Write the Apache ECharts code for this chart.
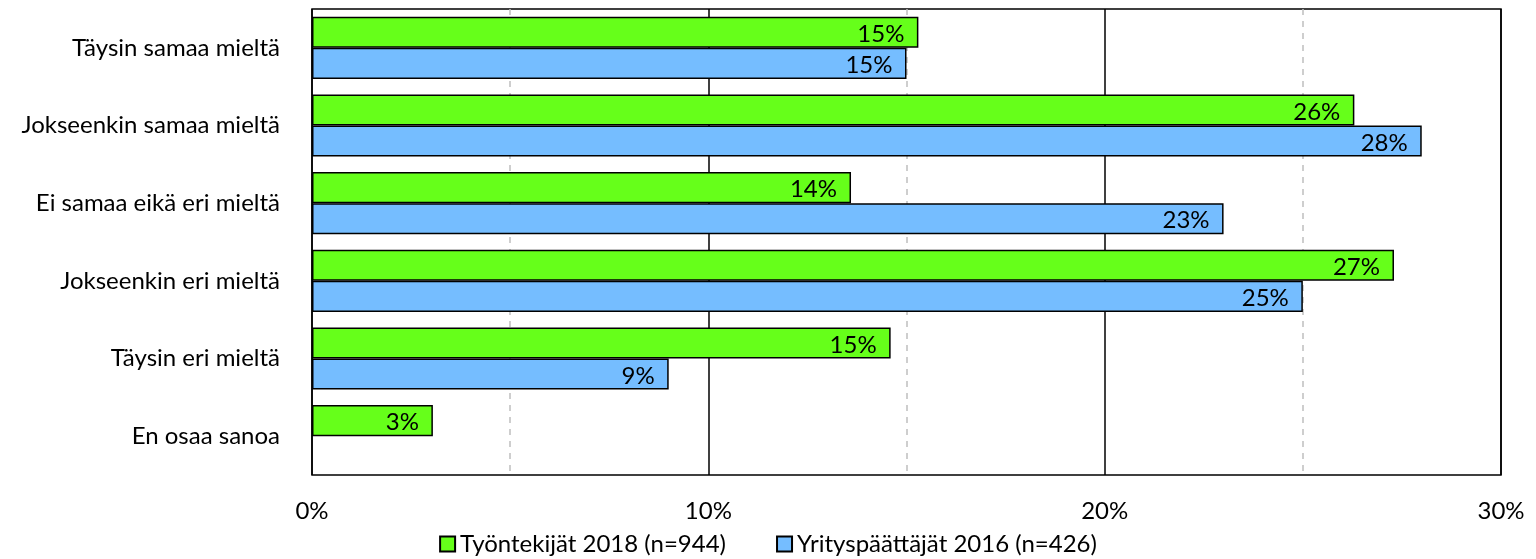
<!DOCTYPE html>
<html>
<head>
<meta charset="utf-8">
<script src="https://cdn.jsdelivr.net/npm/echarts@6/dist/echarts.min.js"></script>
<style>
  html, body { margin: 0; padding: 0; background: #fff; }
  #chart { width: 1536px; height: 559px; }
</style>
</head>
<body>
<div id="chart"></div>
<script>
const categories = [
  'Täysin samaa mieltä',
  'Jokseenkin samaa mieltä',
  'Ei samaa eikä eri mieltä',
  'Jokseenkin eri mieltä',
  'Täysin eri mieltä',
  'En osaa sanoa'
];
const tyontekijat2018 = [15.3, 26.3, 13.6, 27.3, 14.6, 3.05];
const yrityspaattajat2016 = [15.0, 28.0, 23.0, 25.0, 9.0, null];
const seriesNames = ['Työntekijät 2018 (n=944)', 'Yrityspäättäjät 2016 (n=426)'];

const FONT = 'Lato';
const FS = 24;
const chart = echarts.init(document.getElementById('chart'));

const labelOpt = {
  show: true,
  position: 'insideRight',
  distance: 14,
  offset: [0, 2],
  color: '#000',
  fontFamily: FONT,
  fontSize: FS,
  formatter: p => p.value == null ? '' : Math.round(p.value) + '%'
};

chart.setOption({
  animation: false,
  textStyle: { fontFamily: FONT },
  grid: {
    left: 312, right: 35, top: 9, bottom: 84,
    show: true, borderColor: '#000', borderWidth: 1.5, backgroundColor: 'transparent'
  },
  legend: {
    bottom: -2,
    left: 'center',
    itemWidth: 15,
    itemHeight: 15,
    itemGap: 50,
    icon: 'rect',
    textStyle: { fontSize: FS, color: '#000', fontFamily: FONT, padding: [0, 0, 0, 0] },
    data: seriesNames
  },
  xAxis: [
    {
      type: 'value', min: 0, max: 30, interval: 10,
      axisLine: { show: false }, axisTick: { show: false },
      axisLabel: { color: '#000', fontSize: FS, fontFamily: FONT, margin: 24, formatter: '{value}%' },
      splitLine: { show: true, lineStyle: { color: '#000', width: 1.5 } },
      z: 3
    },
    {
      type: 'value', min: 0, max: 30, interval: 5, position: 'bottom',
      axisLine: { show: false }, axisTick: { show: false }, axisLabel: { show: false },
      splitLine: { show: true, lineStyle: { color: ['transparent', '#bfbfbf'], width: 1.5, type: [6, 6] } }
    }
  ],
  yAxis: {
    type: 'category',
    data: categories,
    inverse: true,
    axisLine: { show: false }, axisTick: { show: false },
    axisLabel: { color: '#000', fontSize: FS, fontFamily: FONT, margin: 32 }
  },
  series: [
    {
      name: seriesNames[0], type: 'bar', data: tyontekijat2018,
      barGap: '0%', barCategoryGap: '20%',
      itemStyle: { color: '#66ff1a', borderColor: '#000', borderWidth: 1.5 },
      label: labelOpt, z: 4
    },
    {
      name: seriesNames[1], type: 'bar', data: yrityspaattajat2016,
      barGap: '0%', barCategoryGap: '20%',
      itemStyle: { color: '#75bdff', borderColor: '#000', borderWidth: 1.5 },
      label: labelOpt, z: 4
    }
  ]
});
</script>
</body>
</html>
